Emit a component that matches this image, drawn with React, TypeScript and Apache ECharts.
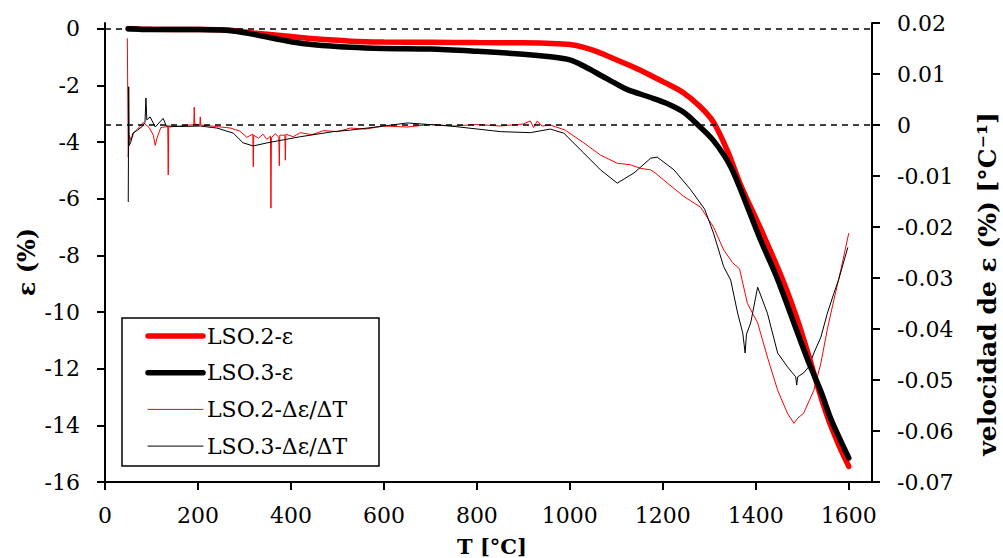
import React, { useEffect, useRef } from "react";
import * as echarts from "echarts";

const xTicks = [0, 200, 400, 600, 800, 1000, 1200, 1400, 1600];
const epsTicks = [-16, -14, -12, -10, -8, -6, -4, -2, 0];

const legendNames = ["LSO.2-ε", "LSO.3-ε", "LSO.2-Δε/ΔT", "LSO.3-Δε/ΔT"];
const legendColors = ["#ff0000", "#000000", "#ff0000", "#000000"];
const legendWidths = [5.5, 5.5, 1, 1];

// LSO.2 strain (T [°C], ε %)
const lso2Eps: [number, number][] = [
  [50, 0], [100, -0.02], [200, -0.03], [250, -0.04], [280, -0.07], [320, -0.15], [400, -0.28],
  [450, -0.36], [528, -0.44], [600, -0.47], [700, -0.48], [800, -0.49], [900, -0.5], [960, -0.52],
  [1000, -0.56], [1030, -0.66], [1060, -0.82], [1100, -1.1], [1140, -1.38], [1174, -1.65],
  [1210, -1.95], [1245, -2.27], [1280, -2.75], [1309, -3.3], [1340, -4.35], [1367, -5.5],
  [1417, -7.3], [1460, -8.95], [1490, -10.3], [1514, -11.55], [1530, -12.45], [1545, -13.25],
  [1561, -14.0], [1580, -14.75], [1600, -15.45],
];

// LSO.3 strain (T [°C], ε %)
const lso3Eps: [number, number][] = [
  [50, 0], [100, -0.03], [200, -0.03], [250, -0.05], [280, -0.09], [320, -0.2], [400, -0.46],
  [450, -0.57], [528, -0.66], [600, -0.7], [700, -0.72], [800, -0.8], [900, -0.9], [958, -0.99],
  [1000, -1.1], [1030, -1.32], [1070, -1.68], [1100, -1.95], [1124, -2.15], [1174, -2.43],
  [1210, -2.65], [1245, -2.95], [1275, -3.39], [1309, -3.95], [1346, -4.87], [1382, -6.29],
  [1410, -7.45], [1447, -8.85], [1480, -10.3], [1512, -11.7], [1540, -12.8], [1561, -13.75],
  [1580, -14.45], [1600, -15.15],
];

// LSO.2 strain rate (T [°C], Δε/ΔT)
const lso2Rate: [number, number][] = [
  [48, 0.017], [50, -0.0063], [52, -0.002], [56, -0.003], [62, -0.0015], [70, -0.0008],
  [82, 0.0005], [95, -0.0005], [104, -0.002], [108, -0.004], [112, -0.0025], [120, -0.0005],
  [135, -0.0003], [136, -0.0098], [137, -0.0004], [160, -0.0002], [180, 0], [191, 0],
  [192, 0.0035], [193, 0.0002], [204, 0], [205, 0.0016], [206, 0], [240, -0.0003],
  [270, -0.0006], [290, -0.0012], [305, -0.0024], [318, -0.0018], [319, -0.0082], [320, -0.002],
  [330, -0.0026], [340, -0.0018], [348, -0.0028], [356, -0.0022], [357, -0.0163], [358, -0.0025],
  [366, -0.0017], [374, -0.0024], [375, -0.008], [376, -0.002], [387, -0.002], [388, -0.0069],
  [389, -0.0018], [405, -0.0023], [420, -0.0015], [445, -0.0019], [470, -0.0011], [500, -0.0013],
  [528, -0.0006], [560, -0.0008], [600, -0.0002], [650, -0.0004], [700, 0.0001], [750, -0.0002],
  [800, 0.0001], [850, -0.0002], [900, 0.0002], [915, 0.0008], [922, -0.0005], [930, 0.0008],
  [940, -0.0002], [958, 0], [990, -0.001], [1030, -0.0035], [1066, -0.0059], [1102, -0.0075],
  [1130, -0.0078], [1152, -0.0085], [1174, -0.0088], [1185, -0.0095], [1210, -0.0114],
  [1245, -0.014], [1281, -0.0161], [1309, -0.02], [1331, -0.0245], [1350, -0.027],
  [1365, -0.0282], [1372, -0.031], [1382, -0.035], [1404, -0.0388], [1425, -0.0455],
  [1447, -0.052], [1468, -0.0565], [1482, -0.0585], [1490, -0.0575], [1503, -0.0565],
  [1525, -0.052], [1540, -0.0467], [1554, -0.04], [1568, -0.0343], [1583, -0.0284],
  [1600, -0.0212],
];

// LSO.3 strain rate (T [°C], Δε/ΔT)
const lso3Rate: [number, number][] = [
  [50, -0.0151], [51, 0.0075], [52, -0.004], [55, -0.0035], [60, -0.0016], [70, -0.001],
  [80, -0.0003], [86, 0.0005], [88, 0.0053], [90, 0.001], [97, 0.0016], [108, -0.0004],
  [118, 0.0006], [125, 0.0013], [132, -0.0002], [160, -0.0003], [205, -0.0002], [241, -0.0006],
  [276, -0.0016], [297, -0.0035], [319, -0.0041], [349, -0.0035], [420, -0.0023], [491, -0.0013],
  [528, -0.001], [600, -0.0002], [650, 0.0004], [743, -0.0002], [851, -0.0013], [915, -0.0015],
  [958, -0.0008], [987, -0.0016], [1030, -0.0055], [1066, -0.0088], [1102, -0.0114],
  [1138, -0.0094], [1174, -0.0065], [1188, -0.0063], [1224, -0.0088], [1260, -0.0127],
  [1290, -0.0165], [1309, -0.0212], [1331, -0.0278], [1346, -0.0304], [1361, -0.0369],
  [1372, -0.0408], [1377, -0.0447], [1380, -0.041], [1389, -0.0388], [1404, -0.0318],
  [1425, -0.0369], [1447, -0.0447], [1468, -0.0474], [1486, -0.0494], [1488, -0.051],
  [1490, -0.0494], [1503, -0.0486], [1514, -0.0474], [1525, -0.0447], [1540, -0.0416],
  [1554, -0.0369], [1568, -0.033], [1578, -0.0304], [1598, -0.024],
];

const FONT = "DejaVu Serif";

export default function App() {
  const ref = useRef<HTMLDivElement>(null);
  useEffect(() => {
    const chart = echarts.init(ref.current!, null, { renderer: "svg" });
    const axisLine = { show: true, lineStyle: { color: "#000", width: 2 } };
    const axisTick = { show: true, length: 8, lineStyle: { color: "#000", width: 2 } };
    const labelStyle = { color: "#000", fontFamily: FONT, fontSize: 22 };
    const dashed = {
      silent: true,
      symbol: "none",
      label: { show: false },
      lineStyle: { color: "#000", width: 1.5, type: [6, 5] },
      data: [{ yAxis: 0 }],
    };

    const legendTop = 336;
    const legendStep = 36.7;
    const legendGraphics: any[] = [];
    legendNames.forEach((name, i) => {
      const y = legendTop + i * legendStep;
      legendGraphics.push({
        type: "line",
        shape: { x1: 148, y1: y, x2: 203, y2: y },
        style: { stroke: legendColors[i], lineWidth: legendWidths[i], lineCap: "round" },
        silent: true,
      });
      legendGraphics.push({
        type: "text",
        x: 207,
        y: y,
        style: {
          text: name,
          font: `22px '${FONT}'`,
          fill: "#000",
          align: "left",
          verticalAlign: "middle",
        },
        silent: true,
      });
    });

    chart.setOption({
      animation: false,
      backgroundColor: "#fff",
      grid: { left: 105, right: 131, top: 23, bottom: 76 },
      xAxis: {
        type: "value",
        min: 0,
        max: 1650,
        axisLine: { ...axisLine, onZero: false },
        axisTick: { ...axisTick, customValues: xTicks },
        axisLabel: {
          ...labelStyle,
          margin: 22,
          customValues: xTicks,
          formatter: (v: number) => String(v),
        },
        splitLine: { show: false },
      },
      yAxis: [
        {
          type: "value",
          min: -16,
          max: 0.2,
          axisLine: { ...axisLine, onZero: false },
          axisTick: { ...axisTick, customValues: epsTicks },
          axisLabel: {
            ...labelStyle,
            margin: 25,
            customValues: epsTicks,
            formatter: (v: number) => String(v),
          },
          splitLine: { show: false },
        },
        {
          type: "value",
          position: "right",
          min: -0.07,
          max: 0.02,
          interval: 0.01,
          axisLine: { ...axisLine, onZero: false },
          axisTick: axisTick,
          axisLabel: {
            ...labelStyle,
            margin: 25,
            formatter: (v: number) => String(Math.round(v * 100) / 100),
          },
          splitLine: { show: false },
        },
      ],
      graphic: [
        {
          type: "rect",
          shape: { x: 122, y: 318, width: 257, height: 148 },
          style: { fill: "#fff", stroke: "#000", lineWidth: 1.5 },
          silent: true,
        },
        ...legendGraphics,
        {
          type: "text",
          x: 492,
          y: 546,
          style: {
            text: "T [°C]",
            font: `bold 21px '${FONT}'`,
            fill: "#000",
            align: "center",
            verticalAlign: "middle",
          },
        },
        {
          type: "text",
          x: 26,
          y: 262,
          rotation: Math.PI / 2,
          style: {
            text: "ε (%)",
            font: `bold 24px '${FONT}'`,
            fill: "#000",
            align: "center",
            verticalAlign: "middle",
          },
        },
        {
          type: "text",
          x: 987,
          y: 284,
          rotation: Math.PI / 2,
          style: {
            text: "velocidad de ε (%) [°C⁻¹]",
            font: `bold 25px '${FONT}'`,
            fill: "#000",
            align: "center",
            verticalAlign: "middle",
          },
        },
      ],
      series: [
        {
          name: "LSO.2-Δε/ΔT",
          type: "line",
          yAxisIndex: 1,
          data: lso2Rate,
          symbol: "none",
          lineStyle: { color: "#ff0000", width: 1 },
          itemStyle: { color: "#ff0000" },
          z: 2,
          markLine: dashed,
        },
        {
          name: "LSO.3-Δε/ΔT",
          type: "line",
          yAxisIndex: 1,
          data: lso3Rate,
          symbol: "none",
          lineStyle: { color: "#000", width: 1 },
          itemStyle: { color: "#000" },
          z: 3,
        },
        {
          name: "LSO.2-ε",
          type: "line",
          yAxisIndex: 0,
          data: lso2Eps,
          symbol: "none",
          smooth: 0.3,
          lineStyle: { color: "#ff0000", width: 5.5, cap: "round" },
          itemStyle: { color: "#ff0000" },
          z: 4,
          markLine: dashed,
        },
        {
          name: "LSO.3-ε",
          type: "line",
          yAxisIndex: 0,
          data: lso3Eps,
          symbol: "none",
          smooth: 0.3,
          lineStyle: { color: "#000", width: 5.5, cap: "round" },
          itemStyle: { color: "#000" },
          z: 5,
        },
      ],
    });
    return () => chart.dispose();
  }, []);
  return (
    <div
      ref={ref}
      style={{ position: "fixed", left: 0, top: 0, width: 1003, height: 558 }}
    />
  );
}
